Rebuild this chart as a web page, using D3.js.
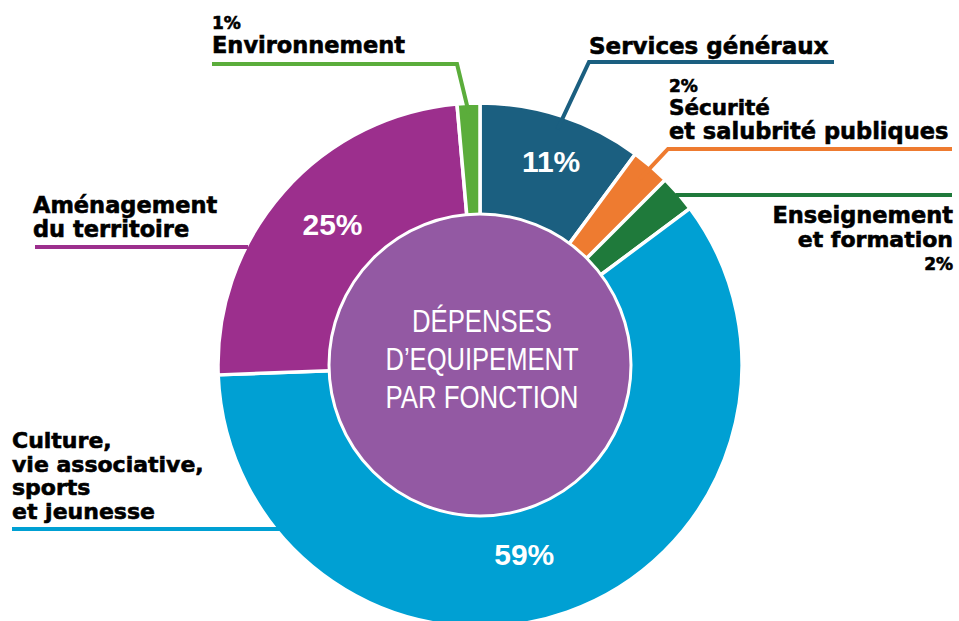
<!DOCTYPE html>
<html>
<head>
<meta charset="utf-8">
<script src="https://cdn.jsdelivr.net/npm/d3@7"></script>
<style>
  body { margin: 0; background: #fff; }
  svg { display: block; }
  .lbl { font-family: "DejaVu Sans", sans-serif; font-weight: bold; fill: #000; stroke: #000; stroke-width: 0.6; }
  .pct { font-family: "Liberation Sans", Arial, sans-serif; font-weight: bold; fill: #fff; }
  .center { font-family: "Liberation Sans", Arial, sans-serif; fill: #fff; }
</style>
</head>
<body>
<svg id="chart" width="959" height="621"></svg>
<script>
// slice order goes clockwise from the top
var categories = ["Services généraux", "Sécurité et salubrité publiques", "Enseignement et formation",
  "Culture, vie associative, sports et jeunesse", "Aménagement du territoire", "Environnement"];
var shares = [10.1, 2.4, 2.3, 59.6, 24.2, 1.4];   // slice sizes as measured on the picture
var pctLabels = ["11%", "2%", "2%", "59%", "25%", "1%"];
var colors = ["#1b5f80", "#ee7b30", "#1f7a3b", "#00a0d3", "#9c2f8d", "#5bad3b"];
var centerLines = ["DÉPENSES", "D\u2019EQUIPEMENT", "PAR FONCTION"];

var svg = d3.select("#chart");
var cx = 480, cy = 365, R = 262, rHole = 151;

function polar(a, r) {
  return [cx + r * Math.sin(a), cy - r * Math.cos(a)];
}

var pie = d3.pie().sort(null).value(d => d.v);
var arcs = pie(shares.map((v, i) => ({ v: v, i: i })));

var arc = d3.arc().innerRadius(130).outerRadius(R);

var g = svg.append("g").attr("transform", "translate(" + cx + "," + cy + ")");

g.selectAll("path.slice")
  .data(arcs)
  .enter()
  .append("path")
  .attr("class", "slice")
  .attr("d", arc)
  .attr("fill", d => colors[d.data.i])
  .attr("stroke", "#fff")
  .attr("stroke-width", 3.5)
  .attr("stroke-linejoin", "round");

// purple centre disc
g.append("circle")
  .attr("r", rHole)
  .attr("fill", "#9359a3")
  .attr("stroke", "#fff")
  .attr("stroke-width", 3);

g.selectAll("text.centerline")
  .data(centerLines)
  .enter()
  .append("text")
  .attr("class", "center")
  .attr("x", 2)
  .attr("y", (d, i) => -33 + i * 38)
  .attr("text-anchor", "middle")
  .attr("font-size", 31)
  .attr("textLength", (d, i) => [140, 193, 193][i])
  .attr("lengthAdjust", "spacingAndGlyphs")
  .text(d => d);

// big percentages inside the ring (positions along the slice middle)
var bigPct = [
  { i: 0, r: 215, dx: 4, dy: 0 },
  { i: 4, r: 210, dx: 10, dy: -2 },
  { i: 3, r: 205, dx: -24, dy: -4 }
];
bigPct.forEach(function(b) {
  var a = arcs[b.i];
  var m = (a.startAngle + a.endAngle) / 2;
  var p = polar(m, b.r);
  svg.append("text")
    .attr("class", "pct")
    .attr("x", p[0] + b.dx)
    .attr("y", p[1] + b.dy + 11)
    .attr("text-anchor", "middle")
    .attr("font-size", 30)
    .text(pctLabels[b.i]);
});

function mid(i) { return (arcs[i].startAngle + arcs[i].endAngle) / 2; }
function edgeX(y, side) { return cx + side * Math.sqrt(R * R - (y - cy) * (y - cy)); }

// leader lines
var leaders = [
  { i: 5, pts: [[212, 64], [457, 64], polar(mid(5), 252)] },
  { i: 0, pts: [[834, 62], [589, 62], polar(mid(0), 248)] },
  { i: 1, pts: [[952, 149], [668, 149], polar(mid(1), 245)] },
  { i: 2, pts: [[952, 195], [edgeX(195, 1) - 4, 195]] },
  { i: 4, pts: [[35, 247], [edgeX(247, -1) + 2, 247]] },
  { i: 3, pts: [[12, 529], [edgeX(529, -1) + 6, 529]] }
];

var line = d3.line();
svg.selectAll("path.leader")
  .data(leaders)
  .enter()
  .append("path")
  .attr("class", "leader")
  .attr("d", d => line(d.pts))
  .attr("fill", "none")
  .attr("stroke", d => colors[d.i])
  .attr("stroke-width", 4);

// category labels
var labelRows = [
  { x: 212, anchor: "start", lines: [["1%", 29, 17], ["Environnement", 53, 22.5]] },
  { x: 589, anchor: "start", lines: [["Services généraux", 54, 23]] },
  { x: 669, anchor: "start", lines: [["2%", 92, 17], ["Sécurité", 115, 21.5], ["et salubrité publiques", 139, 22.5]] },
  { x: 953, anchor: "end", lines: [["Enseignement", 223, 22.5], ["et formation", 247, 22]] , extra: true},
  { x: 953, anchor: "end", lines: [["2%", 270, 17]] },
  { x: 33, anchor: "start", lines: [["Aménagement", 213, 22.5], ["du territoire", 237, 22.5]] },
  { x: 12, anchor: "start", lines: [["Culture,", 448, 22], ["vie associative,", 472, 22], ["sports", 495, 22], ["et jeunesse", 519, 22]] }
];

labelRows.forEach(function(row) {
  row.lines.forEach(function(l) {
    svg.append("text")
      .attr("class", "lbl")
      .attr("x", row.x)
      .attr("y", l[1])
      .attr("text-anchor", row.anchor)
      .attr("font-size", l[2])
      .text(l[0]);
  });
});
</script>
</body>
</html>
